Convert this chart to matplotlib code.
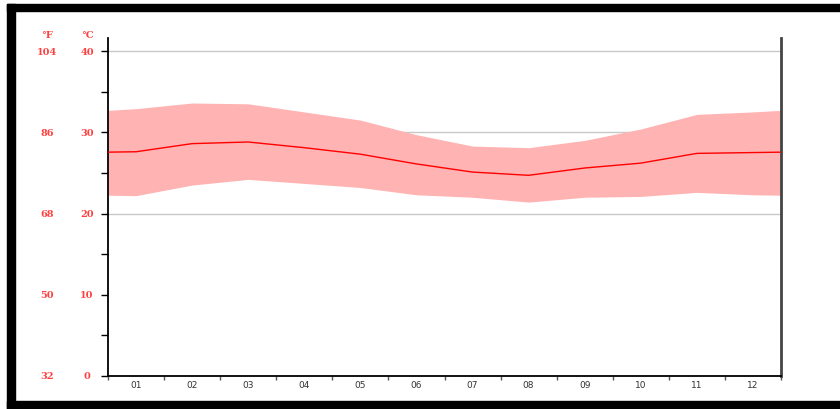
import numpy as np
import matplotlib
matplotlib.use('Agg')
import matplotlib.pyplot as plt
import matplotlib.transforms as mtransforms
from matplotlib.patches import Rectangle

# Monthly temperatures (°C)
months = ['01', '02', '03', '04', '05', '06', '07', '08', '09', '10', '11', '12']
t_mean = [27.6, 28.6, 28.8, 28.1, 27.3, 26.1, 25.1, 24.7, 25.6, 26.2, 27.4, 27.5]
t_max = [32.9, 33.6, 33.5, 32.5, 31.5, 29.7, 28.3, 28.1, 29.0, 30.4, 32.2, 32.5]
t_min = [22.2, 23.5, 24.2, 23.7, 23.2, 22.3, 22.0, 21.4, 22.0, 22.1, 22.6, 22.3]
c_ticks = [0, 10, 20, 30, 40]
f_labels = ['32', '50', '68', '86', '104']

W, H = 840, 410
fig = plt.figure(figsize=(W / 100, H / 100), dpi=100)
fig.patch.set_facecolor('white')

# black frame (top, left, bottom)
fig.patches.append(Rectangle((7 / W, 1 - 12 / H), 1, 7 / H, transform=fig.transFigure,
                             color='black', zorder=0))
fig.patches.append(Rectangle((7 / W, 0), 7.5 / W, 1 - 5 / H, transform=fig.transFigure,
                             color='black', zorder=0))
fig.patches.append(Rectangle((7 / W, 0), 1, 8.5 / H, transform=fig.transFigure,
                             color='black', zorder=0))

x0, x1, y_bot, y_top = 108, 781, 377, 39
ax = fig.add_axes([x0 / W, 1 - y_bot / H, (x1 - x0) / W, (y_bot - y_top) / H])
ax.set_facecolor('white')

# month centres, plus the edges at the Dec/Jan average
n = len(months)
xs = np.concatenate([[0], np.arange(n) + 0.5, [n]])

def wrap(v):
    edge = (v[0] + v[-1]) / 2
    return np.concatenate([[edge], v, [edge]])

ax.fill_between(xs, wrap(t_min), wrap(t_max), color='#ffb3b3', lw=0, zorder=2)
ax.plot(xs, wrap(t_mean), color='#ff0000', lw=1.0, zorder=3)

ax.set_xlim(0, n)
ax.set_ylim(0, 40 * (y_bot - y_top) / 325)

for c in [20, 30, 40]:
    ax.axhline(c, color='#c8c8c8', lw=1, zorder=1)

ax.set_yticks(c_ticks)
ax.set_yticks([5, 15, 25, 35], minor=True)
ax.set_yticklabels([])
ax.tick_params(axis='y', which='both', direction='out', length=5, width=1, color='black')

ax.set_xticks(np.arange(n + 1))
ax.set_xticklabels([])
ax.set_xticks(np.arange(n) + 0.5, minor=True)
ax.set_xticklabels(months, minor=True)
ax.tick_params(axis='x', which='major', direction='out', length=3, width=1, color='#555555')
ax.tick_params(axis='x', which='minor', length=0, pad=3, labelsize=6.5, labelcolor='#333333')

for s in ['top']:
    ax.spines[s].set_visible(False)
ax.spines['left'].set_color('black')
ax.spines['left'].set_linewidth(1.3)
ax.spines['bottom'].set_color('black')
ax.spines['bottom'].set_linewidth(1.3)
ax.spines['right'].set_color('#444444')
ax.spines['right'].set_linewidth(2)

# red °F / °C labels on the left
trans = mtransforms.blended_transform_factory(fig.transFigure, ax.transData)
for c, f in zip(c_ticks, f_labels):
    ax.text(47 / W, c, f, transform=trans, ha='center', va='center',
            fontsize=7, color='#ff4040', fontweight='bold', family='DejaVu Serif')
    ax.text(87 / W, c, str(c), transform=trans, ha='center', va='center',
            fontsize=7, color='#ff4040', fontweight='bold', family='DejaVu Serif')
fig.text(47 / W, 1 - 36 / H, '°F', ha='center', va='center', fontsize=7,
         color='#ff4040', fontweight='bold', family='DejaVu Serif')
fig.text(87 / W, 1 - 36 / H, '°C', ha='center', va='center', fontsize=7,
         color='#ff4040', fontweight='bold', family='DejaVu Serif')

fig.savefig('out.png', dpi=100)
